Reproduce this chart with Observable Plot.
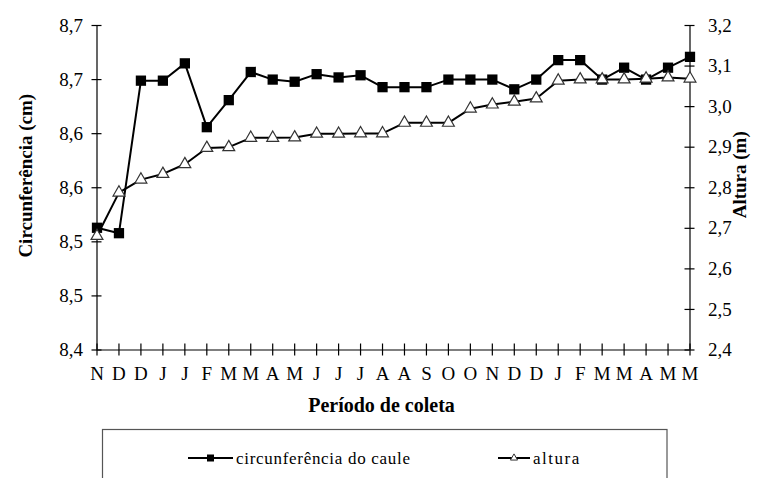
<!DOCTYPE html>
<html><head><meta charset="utf-8">
<script src="https://cdn.jsdelivr.net/npm/d3@7"></script>
<script src="https://cdn.jsdelivr.net/npm/@observablehq/plot@0.6"></script>
<style>html,body{margin:0;padding:0;background:#fff}svg{display:block}</style>
</head><body><div id="chart"></div>
<script>
const periods = ["N","D","D","J","J","F","M","M","A","M","J","J","J","A","A","S","O","O","N","D","D","J","F","M","M","A","M","M"];
const circunferencia = [8.513,8.508,8.649,8.649,8.665,8.606,8.631,8.657,8.650,8.648,8.655,8.652,8.654,8.643,8.643,8.643,8.650,8.650,8.650,8.641,8.650,8.668,8.668,8.650,8.661,8.650,8.661,8.671];
const altura = [2.681,2.788,2.820,2.834,2.858,2.898,2.900,2.923,2.923,2.924,2.933,2.933,2.934,2.934,2.960,2.960,2.960,2.995,3.005,3.012,3.020,3.064,3.067,3.067,3.067,3.069,3.072,3.069];
const leftTicks = [8.40,8.45,8.50,8.55,8.60,8.65,8.70];
const leftTickLabels = ["8,4","8,5","8,5","8,6","8,6","8,7","8,7"];
const rightTicks = [2.4,2.5,2.6,2.7,2.8,2.9,3.0,3.1,3.2];
const rightTickLabels = ["2,4","2,5","2,6","2,7","2,8","2,9","3,0","3,1","3,2"];
const seriesNames = ["circunferência do caule","altura"];
const leftTitle = "Circunferência (cm)";
const rightTitle = "Altura (m)";
const xTitle = "Período de coleta";

// map the right (altura) axis onto the left (circunferência) scale
const lDom = [leftTicks[0], leftTicks[leftTicks.length-1]];
const rDom = [rightTicks[0], rightTicks[rightTicks.length-1]];
const toLeft = a => lDom[0] + (a - rDom[0]) * (lDom[1]-lDom[0]) / (rDom[1]-rDom[0]);

const rows = periods.map((p, i) => ({i, p, c: circunferencia[i], a: toLeft(altura[i])}));
const last = periods.length - 1;
const serif = "'Liberation Serif','Times New Roman',serif";

const chart = Plot.plot({
  width: 766, height: 478,
  marginLeft: 96.5, marginRight: 76.5, marginTop: 25, marginBottom: 128.5,
  style: {fontFamily: serif, background: "#fff", color: "#000", overflow: "visible"},
  x: {type: "linear", domain: [0, last], axis: null},
  y: {domain: lDom, axis: null},
  marks: [
    // axis lines
    Plot.ruleX([0, last], {y1: lDom[0], y2: lDom[1], stroke: "#000", strokeWidth: 1.2}),
    Plot.ruleY([lDom[0]], {x1: 0, x2: last, stroke: "#000", strokeWidth: 1.2}),
    // crossing ticks
    Plot.ruleY(leftTicks, {y: d => d, x1: () => 0, x2: () => 0, insetLeft: -5, insetRight: -5, stroke: "#000", strokeWidth: 1.2}),
    Plot.ruleY(rightTicks, {y: d => toLeft(d), x1: () => last, x2: () => last, insetLeft: -5, insetRight: -5, stroke: "#000", strokeWidth: 1.2}),
    Plot.ruleX(rows, {x: "i", y1: () => lDom[0], y2: () => lDom[0], insetTop: -6, insetBottom: -6, stroke: "#000", strokeWidth: 1.2}),
    // tick labels
    Plot.text(leftTicks, {x: () => 0, y: d => d, text: (d, i) => leftTickLabels[i], textAnchor: "end", dx: -14, fontSize: 19}),
    Plot.text(rightTicks, {x: () => last, y: d => toLeft(d), text: (d, i) => rightTickLabels[i], textAnchor: "start", dx: 18, fontSize: 19}),
    Plot.text(rows, {x: "i", y: () => lDom[0], text: "p", dy: 23.5, fontSize: 19}),
    // axis titles
    Plot.text([leftTitle], {frameAnchor: "left", textAnchor: "middle", dx: -71.5, dy: -12, rotate: -90, fontSize: 19, fontWeight: "bold"}),
    Plot.text([rightTitle], {frameAnchor: "right", textAnchor: "middle", dx: 49.5, dy: -13, rotate: -90, fontSize: 19, fontWeight: "bold", letterSpacing: "0.5px"}),
    Plot.text([xTitle], {frameAnchor: "bottom", textAnchor: "middle", dx: -12, dy: 62, fontSize: 20, fontWeight: "bold", letterSpacing: "0.8px"}),
    // series 1: circunferência
    Plot.line(rows, {x: "i", y: "c", stroke: "#000", strokeWidth: 2}),
    Plot.dot(rows, {x: "i", y: "c", symbol: "square", r: 5.8, fill: "#000", stroke: "none"}),
    // series 2: altura
    Plot.line(rows, {x: "i", y: "a", stroke: "#000", strokeWidth: 2}),
    Plot.dot(rows, {x: "i", y: "a", symbol: "triangle", r: 4.4, fill: "#fff", stroke: "#333", strokeWidth: 1.2})
  ]
});

// legend box (layout, below the chart area)
const svg = d3.select(chart);
const lg = svg.append("g").attr("font-family", serif).attr("font-size", 17).attr("text-anchor", "start");
lg.append("rect").attr("x", 102.5).attr("y", 429.5).attr("width", 564.5).attr("height", 60)
  .attr("fill", "none").attr("stroke", "#555").attr("stroke-width", 1.2);
const ly = 458;
// item 1
lg.append("line").attr("x1", 188).attr("x2", 233).attr("y1", ly).attr("y2", ly).attr("stroke", "#000").attr("stroke-width", 2);
lg.append("path").attr("transform", `translate(210.5,${ly})`).attr("d", d3.symbol(d3.symbolSquare, 49)()).attr("fill", "#000");
lg.append("text").attr("x", 236).attr("y", ly + 6).attr("letter-spacing", "0.7px").text(seriesNames[0]);
// item 2
lg.append("line").attr("x1", 498).attr("x2", 530).attr("y1", ly).attr("y2", ly).attr("stroke", "#000").attr("stroke-width", 2);
lg.append("path").attr("transform", `translate(514,${ly})`).attr("d", d3.symbol(d3.symbolTriangle, 22)()).attr("fill", "#fff").attr("stroke", "#333").attr("stroke-width", 1);
lg.append("text").attr("x", 533).attr("y", ly + 6).attr("letter-spacing", "1.5px").text(seriesNames[1]);

document.getElementById("chart").append(chart);
</script>
</body></html>
